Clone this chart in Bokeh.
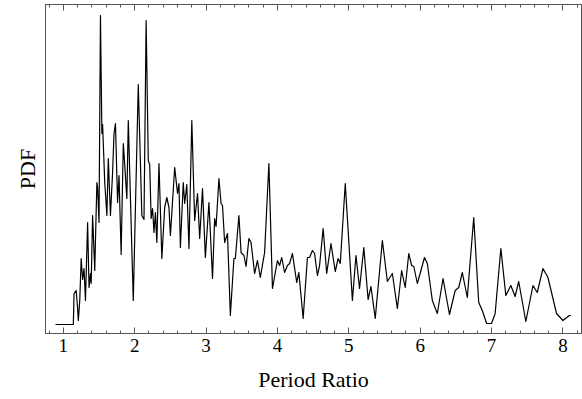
from bokeh.plotting import figure
from bokeh.models import Range1d, LinearAxis, FixedTicker, CustomJSTickFormatter
from bokeh.embed import file_html
from bokeh.resources import INLINE

period_ratio = [
    0.89, 1.14, 1.15, 1.18, 1.20, 1.21, 1.23, 1.25, 1.27, 1.29, 1.31, 1.34, 1.36, 1.38, 1.39,
    1.41, 1.44, 1.47, 1.48, 1.50, 1.52, 1.54, 1.55, 1.58, 1.61, 1.63, 1.66, 1.69, 1.71, 1.73,
    1.76, 1.78, 1.81, 1.84, 1.85, 1.89, 1.91, 1.98, 2.05, 2.10, 2.13, 2.16, 2.19, 2.21, 2.23,
    2.25, 2.27, 2.29, 2.31, 2.34, 2.38, 2.42, 2.45, 2.48, 2.50, 2.56, 2.60, 2.62, 2.64, 2.68,
    2.70, 2.73, 2.76, 2.80, 2.84, 2.88, 2.91, 2.95, 2.99, 3.04, 3.09, 3.12, 3.14, 3.18, 3.21,
    3.23, 3.26, 3.30, 3.34, 3.39, 3.41, 3.46, 3.49, 3.53, 3.56, 3.60, 3.63, 3.68, 3.72, 3.76,
    3.82, 3.88, 3.93, 4.00, 4.03, 4.06, 4.10, 4.14, 4.17, 4.21, 4.27, 4.30, 4.36, 4.42, 4.45,
    4.49, 4.52, 4.56, 4.59, 4.64, 4.69, 4.75, 4.81, 4.85, 4.88, 4.95, 5.05, 5.10, 5.15, 5.21,
    5.27, 5.31, 5.37, 5.47, 5.54, 5.61, 5.68, 5.74, 5.79, 5.84, 5.88, 5.91, 5.96, 6.06, 6.10,
    6.17, 6.24, 6.32, 6.41, 6.49, 6.54, 6.59, 6.66, 6.75, 6.82, 6.87, 6.93, 7.00, 7.05, 7.13,
    7.20, 7.27, 7.33, 7.38, 7.48, 7.58, 7.64, 7.72, 7.79, 7.91, 8.00, 8.09, 8.11,
]
pdf = [
    0.00, 0.00, 0.31, 0.34, 0.16, 0.04, 0.24, 0.66, 0.45, 0.56, 0.24, 1.02, 0.37, 0.51, 0.41,
    1.09, 0.54, 1.42, 1.37, 1.02, 3.09, 1.91, 2.00, 1.42, 1.09, 1.66, 1.09, 1.52, 1.91, 2.01,
    1.22, 1.49, 0.70, 1.81, 1.71, 1.26, 2.04, 0.24, 2.40, 1.09, 1.05, 3.04, 1.64, 1.60, 1.06,
    1.16, 0.92, 1.12, 0.82, 1.61, 0.66, 1.17, 1.27, 1.17, 0.89, 1.57, 1.31, 1.41, 0.77, 1.42,
    1.21, 1.40, 0.76, 2.04, 1.04, 1.31, 0.86, 1.36, 0.67, 1.22, 0.46, 1.06, 0.98, 1.46, 1.21,
    1.19, 0.82, 0.91, 0.09, 0.66, 0.66, 1.09, 0.72, 0.69, 0.58, 0.86, 0.82, 0.51, 0.64, 0.47,
    0.72, 1.61, 0.36, 0.64, 0.59, 0.67, 0.52, 0.59, 0.61, 0.71, 0.42, 0.52, 0.06, 0.67, 0.67,
    0.74, 0.71, 0.49, 0.59, 0.96, 0.51, 0.81, 0.53, 0.66, 0.61, 1.41, 0.24, 0.69, 0.36, 0.77,
    0.25, 0.38, 0.06, 0.84, 0.43, 0.51, 0.16, 0.54, 0.37, 0.71, 0.59, 0.58, 0.41, 0.67, 0.61,
    0.24, 0.11, 0.46, 0.10, 0.34, 0.37, 0.52, 0.27, 1.07, 0.22, 0.14, 0.01, 0.01, 0.11, 0.76,
    0.29, 0.39, 0.28, 0.43, 0.03, 0.39, 0.32, 0.56, 0.47, 0.11, 0.04, 0.09, 0.09,
]

x_ticks = [1, 2, 3, 4, 5, 6, 7, 8]
x_tick_labels = ["1", "2", "3", "4", "5", "6", "7", "8"]
x_minor_ticks = [round(0.8 + 0.2 * i, 1) for i in range(38)]
x_minor_ticks = [t for t in x_minor_ticks if abs(t - round(t)) > 1e-6]

FONT = "Liberation Serif"
FRAME = "#555555"

p = figure(
    width=582, height=399,
    x_range=Range1d(0.75, 8.26), y_range=Range1d(-0.09, 3.20),
    output_backend="svg", toolbar_location=None,
    min_border_left=45, min_border_right=1, min_border_top=4, min_border_bottom=66,
)
p.xgrid.visible = False
p.ygrid.visible = False
p.outline_line_color = FRAME
p.outline_line_width = 1
p.background_fill_color = "white"
p.border_fill_color = "white"

p.line(period_ratio, pdf, line_color="black", line_width=1.2, line_join="round")

ticker = FixedTicker(ticks=x_ticks, minor_ticks=x_minor_ticks)

xa = p.xaxis[0]
xa.ticker = ticker
xa.major_label_overrides = {t: l for t, l in zip(x_ticks, x_tick_labels)}
xa.axis_label = "Period Ratio"
xa.axis_label_text_font = FONT
xa.axis_label_text_font_style = "normal"
xa.axis_label_text_font_size = "22px"
xa.axis_label_text_color = "black"
xa.axis_label_standoff = 12
xa.major_label_text_font = FONT
xa.major_label_text_font_size = "19px"
xa.major_label_text_color = "black"
xa.major_label_standoff = 5
xa.major_tick_in = 6
xa.major_tick_out = 0
xa.minor_tick_in = 3
xa.minor_tick_out = 0
xa.axis_line_color = FRAME
xa.major_tick_line_color = FRAME
xa.minor_tick_line_color = FRAME

top = LinearAxis(ticker=ticker, formatter=CustomJSTickFormatter(code="return ''"))
top.major_tick_in = 6
top.major_tick_out = 0
top.minor_tick_in = 3
top.minor_tick_out = 0
top.major_label_standoff = 0
top.major_label_text_font_size = "1px"
top.axis_line_color = FRAME
top.major_tick_line_color = FRAME
top.minor_tick_line_color = FRAME
p.add_layout(top, "above")

ya = p.yaxis[0]
ya.ticker = FixedTicker(ticks=[])
ya.axis_label = "PDF"
ya.axis_label_text_font = FONT
ya.axis_label_text_font_style = "normal"
ya.axis_label_text_font_size = "22px"
ya.axis_label_text_color = "black"
ya.axis_label_standoff = 6
ya.axis_line_color = FRAME
ya.major_tick_line_color = None
ya.minor_tick_line_color = None

open("out.html", "w").write(file_html(p, INLINE))
